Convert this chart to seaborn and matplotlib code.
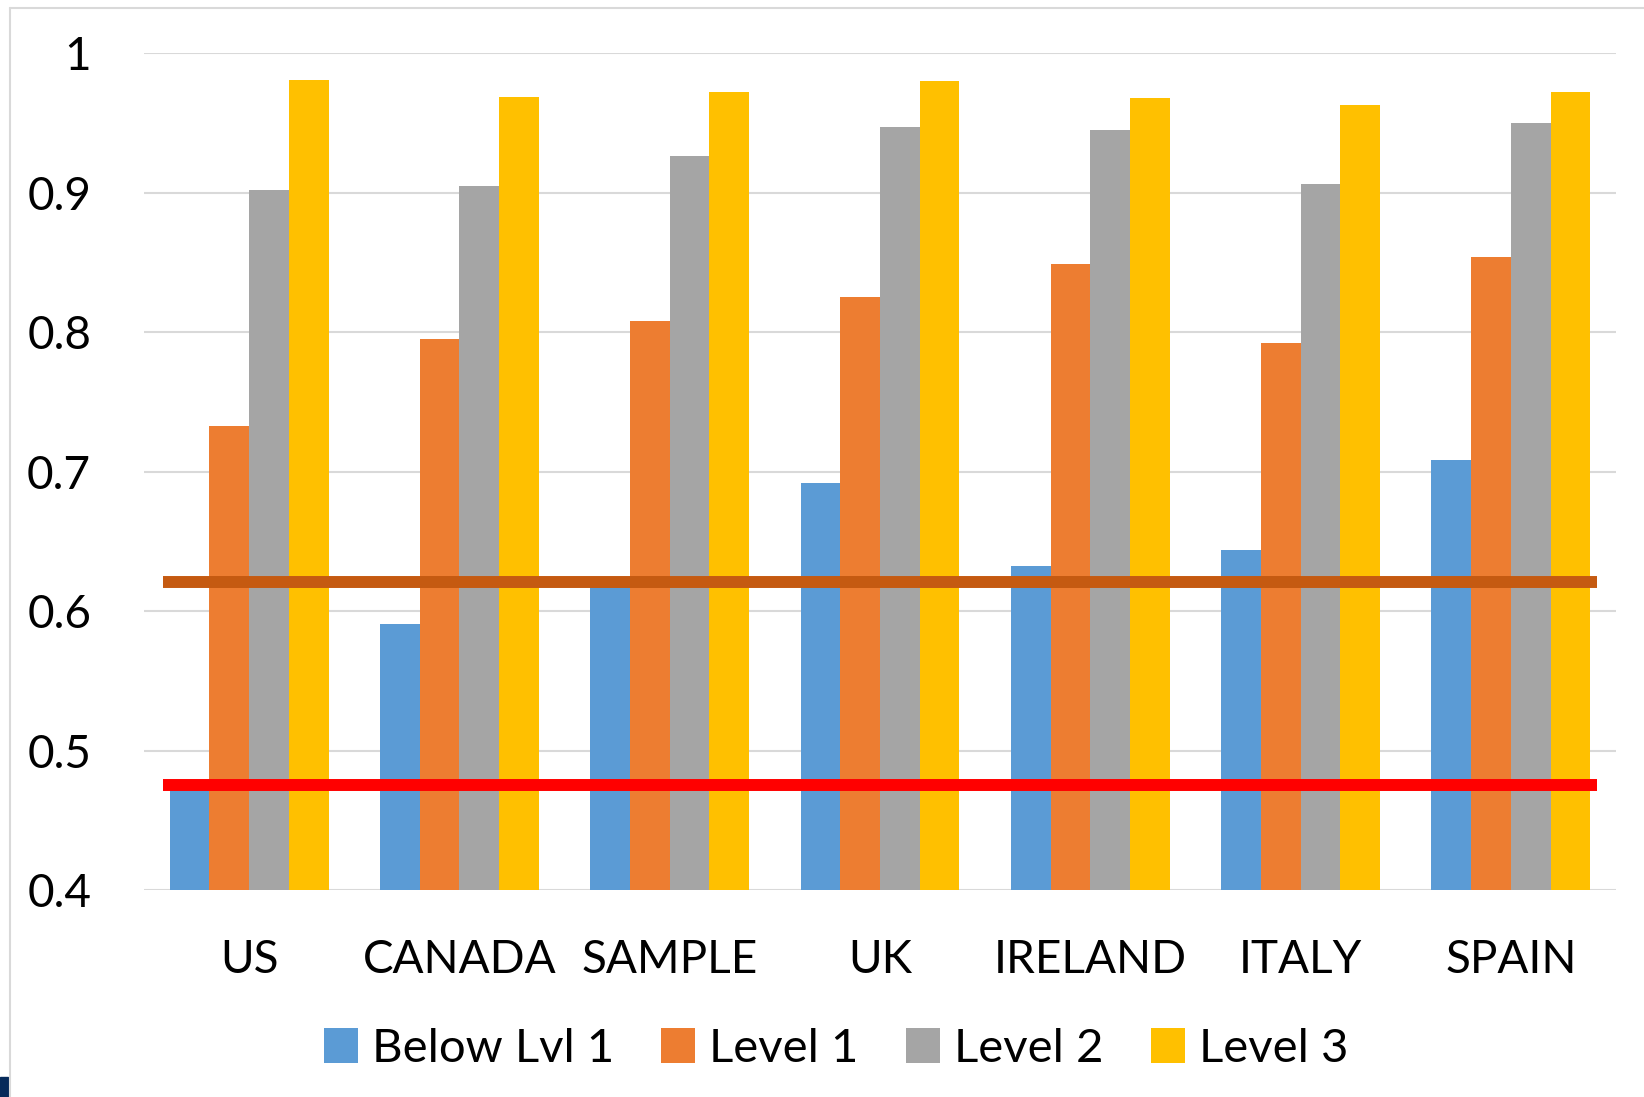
import matplotlib
matplotlib.use("Agg")
import matplotlib.pyplot as plt
from matplotlib.patches import Patch, Rectangle
from matplotlib.lines import Line2D
from matplotlib.ticker import FuncFormatter
import numpy as np
import pandas as pd
import seaborn as sns

# Proficiency shares by country and literacy level
countries = ["US", "CANADA", "SAMPLE", "UK", "IRELAND", "ITALY", "SPAIN"]
levels = ["Below Lvl 1", "Level 1", "Level 2", "Level 3"]
below_lvl1 = [0.473, 0.591, 0.620, 0.692, 0.632, 0.644, 0.708]
level_1 = [0.733, 0.795, 0.808, 0.825, 0.849, 0.792, 0.854]
level_2 = [0.902, 0.905, 0.926, 0.947, 0.945, 0.906, 0.950]
level_3 = [0.981, 0.969, 0.972, 0.980, 0.968, 0.963, 0.972]

# Reference thresholds drawn across the chart
threshold_low = 0.475
threshold_high = 0.621

y_ticks = [0.4, 0.5, 0.6, 0.7, 0.8, 0.9, 1.0]

colors = ["#5B9BD5", "#ED7D31", "#A5A5A5", "#FFC000"]

df = pd.DataFrame({
    "country": countries * 4,
    "level": np.repeat(levels, len(countries)),
    "value": below_lvl1 + level_1 + level_2 + level_3,
})

sns.set_style("white")
plt.rcParams["font.family"] = ["Lato", "DejaVu Sans"]
plt.rcParams["text.color"] = "black"

W, H = 1644, 1097
fig = plt.figure(figsize=(W / 100, H / 100), dpi=100)
ax = fig.add_axes([144 / W, 1 - 890 / H, (1616 - 144) / W, (890 - 53.3) / H])

sns.barplot(data=df, x="country", y="value", hue="level", order=countries,
            hue_order=levels, palette=colors, saturation=1, width=0.755,
            linewidth=0, ax=ax, legend=False, zorder=2)

ax.set_ylim(0.4, 1.0)
ax.set_xlim(-0.5, len(countries) - 0.5)
ax.set_yticks(y_ticks)
ax.yaxis.set_major_formatter(FuncFormatter(lambda v, _: "1" if abs(v - 1) < 1e-9 else f"{v:.1f}"))
ax.yaxis.grid(True, color="#D9D9D9", linewidth=1.5, zorder=0)
ax.set_axisbelow(True)
for s in ax.spines.values():
    s.set_visible(False)
ax.tick_params(axis="y", length=0, pad=38, labelsize=33, colors="black")
ax.tick_params(axis="x", length=0, pad=35, labelsize=33, colors="black")
ax.set_xlabel("")
ax.set_ylabel("")

# Threshold lines
ax.hlines(threshold_low, -0.41, 6.41, color="#FF0000", linewidth=8.6, zorder=5)
ax.hlines(threshold_high, -0.41, 6.41, color="#C55A11", linewidth=8.6, zorder=5)

# Legend
handles = [Patch(facecolor=c, edgecolor="none", label=l) for c, l in zip(colors, levels)]
fig.legend(handles=handles, loc="center", bbox_to_anchor=(836 / W, 1 - 1049 / H),
           ncol=4, frameon=False, fontsize=34, handlelength=0.72, handleheight=0.74,
           handletextpad=0.3, columnspacing=1.0, borderaxespad=0, labelcolor="black")

# Chart frame and corner mark
fig.add_artist(Line2D([9.5 / W, 9.5 / W], [0, 1 - 7.5 / H], color="#D9D9D9",
                      linewidth=1.5, transform=fig.transFigure))
fig.add_artist(Line2D([9.5 / W, 1], [1 - 7.5 / H, 1 - 7.5 / H], color="#D9D9D9",
                      linewidth=1.5, transform=fig.transFigure))
fig.add_artist(Rectangle((0, 0), 8 / W, 20 / H, color="#062A5A",
                         transform=fig.transFigure))

fig.savefig("out.png", dpi=100)
